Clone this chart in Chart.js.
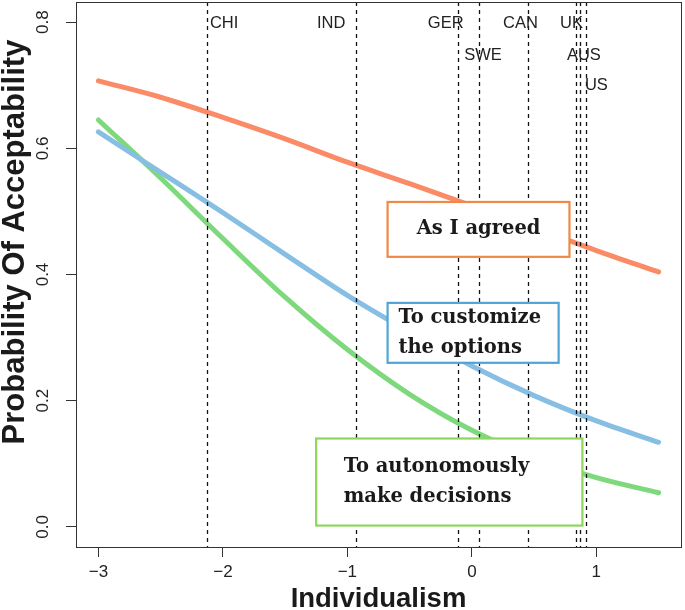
<!DOCTYPE html>
<html><head><meta charset="utf-8">
<script src="https://cdn.jsdelivr.net/npm/chart.js@4/dist/chart.umd.min.js"></script>
<style>html,body{margin:0;padding:0;background:#fff;}#wrap{width:685px;height:610px;}</style>
</head><body><div id="wrap"><canvas id="c" width="685" height="610"></canvas></div>
<script>
// ---- data ----
const xValues    = [-3, -2.5, -2, -1.5, -1, -0.5, 0, 0.5, 1, 1.5];
const agreed     = [0.707, 0.681, 0.649, 0.615, 0.578, 0.544, 0.509, 0.474, 0.438, 0.404];
const customize  = [0.626, 0.562, 0.498, 0.432, 0.367, 0.309, 0.255, 0.208, 0.168, 0.134];
const autonomous = [0.645, 0.553, 0.457, 0.364, 0.281, 0.210, 0.153, 0.110, 0.078, 0.054];
const seriesNames = ['As I agreed', 'To customize the options', 'To autonomously make decisions'];
const countries     = ['CHI', 'IND', 'GER', 'SWE', 'CAN', 'UK', 'AUS', 'US'];
const countryX      = [-2.13, -0.93, -0.11, 0.06, 0.45, 0.84, 0.87, 0.92];
const countryLabelX = [-1.99, -1.13, -0.21, 0.09, 0.39, 0.80, 0.90, 1.00];
const countryLabelY = [0.798, 0.798, 0.798, 0.748, 0.798, 0.798, 0.748, 0.700];
const xTicks = [-3, -2, -1, 0, 1];
const yTicks = [0, 0.2, 0.4, 0.6, 0.8];
const xTitle = 'Individualism';
const yTitle = 'Probability Of Acceptability';

// ---- styling / layout ----
const curveColors = ['#FA8B66', '#86BEE4', '#7ED87C'];
const boxes = [
  {lines: ['As I agreed'], color: '#EE8A45', x0: -0.677, x1: 0.784, y0: 0.515, y1: 0.428, align: 'center'},
  {lines: ['To customize', 'the options'], color: '#4FA6D6', x0: -0.677, x1: 0.697, y0: 0.355, y1: 0.260, align: 'left', tx: -0.59},
  {lines: ['To autonomously', 'make decisions'], color: '#8ED65E', x0: -1.251, x1: 0.888, y0: 0.140, y1: 0.002, align: 'left', tx: -1.03}
];
const minus = v => (v < 0 ? '\u2212' + Math.abs(v) : String(v));

const overlay = {
  id: 'overlay',
  afterDatasetsDraw(chart) {
    const ctx = chart.ctx, xs = chart.scales.x, ys = chart.scales.y, a = chart.chartArea;
    ctx.save();
    // country dashed lines
    ctx.strokeStyle = '#111'; ctx.lineWidth = 1.3; ctx.setLineDash([4, 4]);
    countryX.forEach(v => {
      const px = Math.round(xs.getPixelForValue(v)) + 0.5;
      ctx.beginPath(); ctx.moveTo(px, a.top); ctx.lineTo(px, a.bottom); ctx.stroke();
    });
    ctx.setLineDash([]);
    // country labels
    ctx.fillStyle = '#222'; ctx.font = '16.5px "Liberation Sans", Arial, sans-serif';
    ctx.textAlign = 'center'; ctx.textBaseline = 'middle';
    countries.forEach((c, i) => ctx.fillText(c, xs.getPixelForValue(countryLabelX[i]), ys.getPixelForValue(countryLabelY[i])));
    // text boxes
    boxes.forEach(b => {
      const l = xs.getPixelForValue(b.x0), r = xs.getPixelForValue(b.x1);
      const t = ys.getPixelForValue(b.y0), btm = ys.getPixelForValue(b.y1);
      ctx.fillStyle = '#fff'; ctx.fillRect(l, t, r - l, btm - t);
      ctx.strokeStyle = b.color; ctx.lineWidth = 2.2; ctx.strokeRect(l, t, r - l, btm - t);
      ctx.fillStyle = '#1a1a1a'; ctx.font = 'bold 19.5px "DejaVu Serif", serif';
      ctx.textBaseline = 'middle';
      const lh = 29.5, cy = (t + btm) / 2, n = b.lines.length;
      b.lines.forEach((s, i) => {
        const y = cy + (i - (n - 1) / 2) * lh;
        if (b.align === 'center') { ctx.textAlign = 'center'; ctx.fillText(s, (l + r) / 2, y); }
        else { ctx.textAlign = 'left'; ctx.fillText(s, xs.getPixelForValue(b.tx), y); }
      });
    });
    // full box around plot
    ctx.strokeStyle = '#333'; ctx.lineWidth = 1;
    ctx.strokeRect(Math.round(a.left) + 0.5, Math.round(a.top) + 0.5, Math.round(a.right - a.left), Math.round(a.bottom - a.top));
    // y tick labels (rotated, R style)
    ctx.fillStyle = '#222'; ctx.font = '17px "Liberation Sans", Arial, sans-serif';
    ctx.textAlign = 'center'; ctx.textBaseline = 'middle';
    ys.ticks.forEach(tk => {
      ctx.save(); ctx.translate(43, ys.getPixelForValue(tk.value)); ctx.rotate(-Math.PI / 2);
      ctx.fillText(tk.value.toFixed(1), 0, 0); ctx.restore();
    });
    // axis titles
    ctx.fillStyle = '#1a1a1a';
    ctx.textAlign = 'center'; ctx.textBaseline = 'alphabetic';
    ctx.font = 'bold 31px "Liberation Sans", Arial, sans-serif';
    ctx.save(); ctx.translate(24, 242); ctx.rotate(-Math.PI / 2);
    ctx.fillText(yTitle, 0, 0); ctx.restore();
    ctx.font = 'bold 27.5px "Liberation Sans", Arial, sans-serif';
    ctx.fillText(xTitle, (a.left + a.right) / 2, 607);
    ctx.restore();
  }
};

const mk = (i, arr) => ({
  label: seriesNames[i],
  data: xValues.map((x, k) => ({x, y: arr[k]})),
  borderColor: curveColors[i], borderWidth: 5, borderCapStyle: 'round',
  pointRadius: 0, cubicInterpolationMode: 'monotone', fill: false
});

new Chart(document.getElementById('c'), {
  type: 'line',
  data: {datasets: [mk(0, agreed), mk(1, customize), mk(2, autonomous)]},
  options: {
    responsive: false, animation: false, devicePixelRatio: 1,
    layout: {padding: {top: 2, right: 4, left: 0, bottom: 0}},
    plugins: {legend: {display: false}, tooltip: {enabled: false}},
    scales: {
      x: {
        type: 'linear', min: -3.18, max: 1.68,
        afterBuildTicks: s => { s.ticks = xTicks.map(v => ({value: v})); },
        afterFit: s => { s.height = 63; },
        ticks: {callback: v => minus(v), color: '#222', padding: 5, maxRotation: 0,
                font: {family: '"Liberation Sans", Arial, sans-serif', size: 17}},
        grid: {drawOnChartArea: false, drawTicks: true, tickLength: 10, color: '#333', lineWidth: 1},
        border: {display: true, color: '#333', width: 1}
      },
      y: {
        type: 'linear', min: -0.032, max: 0.832,
        afterBuildTicks: s => { s.ticks = yTicks.map(v => ({value: v})); },
        afterFit: s => { s.width = 76; },
        ticks: {display: false},
        grid: {drawOnChartArea: false, drawTicks: true, tickLength: 10, color: '#333', lineWidth: 1},
        border: {display: true, color: '#333', width: 1}
      }
    }
  },
  plugins: [overlay]
});
</script>
</body></html>
